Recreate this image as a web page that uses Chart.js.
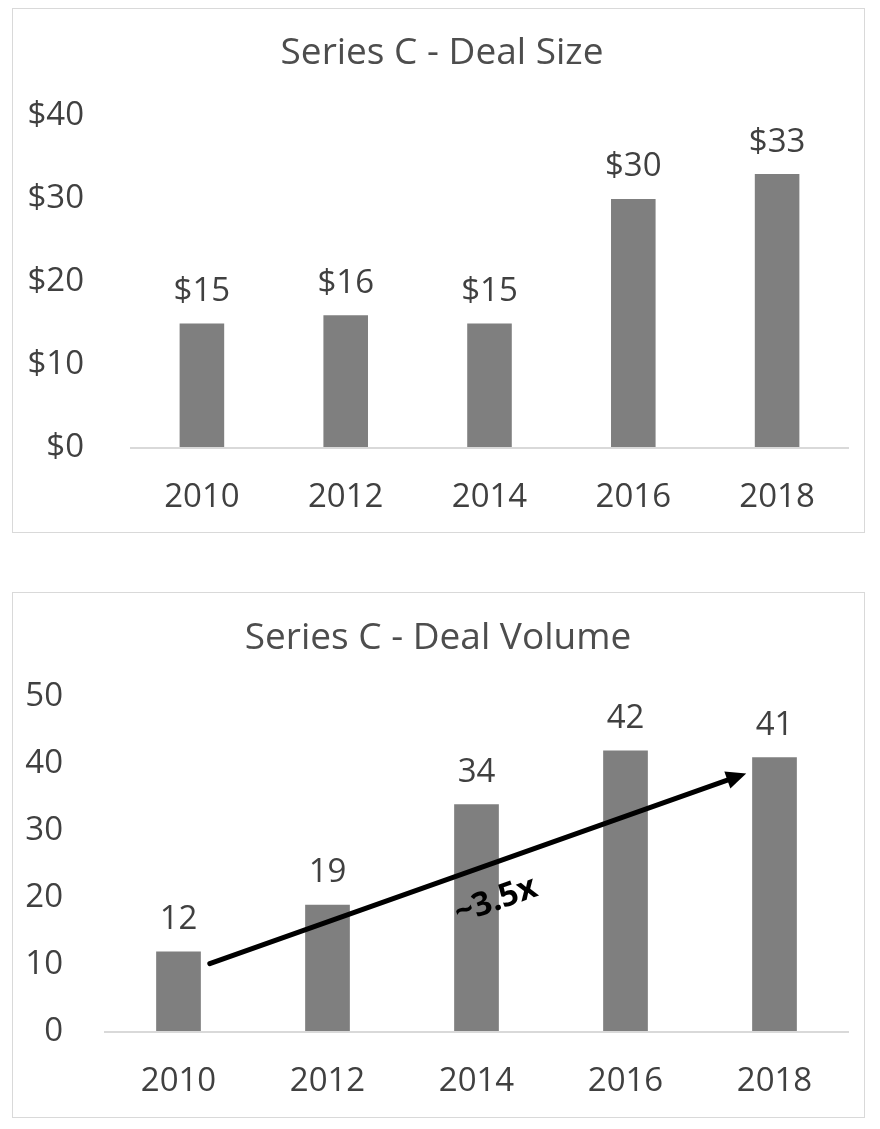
<!DOCTYPE html>
<html>
<head>
<meta charset="utf-8">
<script src="https://cdn.jsdelivr.net/npm/chart.js@4.4.1/dist/chart.umd.min.js"></script>
<style>
    body { margin: 0; background: #fff; }
    .box { position: absolute; left: 12px; width: 853px; border: 1px solid #d9d9d9; box-sizing: border-box; }
    #box1 { top: 8px; height: 525px; }
    #box2 { top: 592px; height: 526px; }
    canvas { display: block; }
</style>
</head>
<body>
<div class="box" id="box1"><canvas id="sizeChart"></canvas></div>
<div class="box" id="box2"><canvas id="volumeChart"></canvas></div>
<script>
// chart data
const years = ["2010", "2012", "2014", "2016", "2018"];
const dealSize = [15, 16, 15, 30, 33];
const dealVolume = [12, 19, 34, 42, 41];
const sizeTicks = [0, 10, 20, 30, 40];
const volumeTicks = [0, 10, 20, 30, 40, 50];

// growth arrow annotation: [category index, value]
const arrowFrom = [0.21, 10.2];
const arrowTo = [3.81, 38.6];
const arrowText = "~3.5x";
const arrowTextAt = [2.13, 19.6];

const FONT = "'Open Sans', sans-serif";
const BAR_GRAY = "#7f7f7f";
const TEXT = "#404040";

// title + value labels above the bars
const labelPlugin = {
    id: "barLabels",
    afterDatasetsDraw(chart, args, opts) {
        const ctx = chart.ctx;
        ctx.save();
        ctx.fillStyle = "#4d4d4d";
        ctx.font = "37px " + FONT;
        ctx.textAlign = "center";
        ctx.textBaseline = "middle";
        ctx.fillText(opts.title, opts.titleX, opts.titleY);

        ctx.fillStyle = TEXT;
        ctx.font = "33px " + FONT;
        const meta = chart.getDatasetMeta(0);
        meta.data.forEach((bar, i) => {
            const v = chart.data.datasets[0].data[i];
            ctx.fillText(opts.prefix + v, bar.x, bar.y - 32);
        });
        ctx.restore();
    }
};

// arrow drawn in data space
const arrowPlugin = {
    id: "growthArrow",
    afterDatasetsDraw(chart) {
        if (chart.canvas.id !== "volumeChart") return;
        const xs = chart.scales.x, ys = chart.scales.y;
        const x1 = xs.getPixelForValue(arrowFrom[0]), y1 = ys.getPixelForValue(arrowFrom[1]);
        const x2 = xs.getPixelForValue(arrowTo[0]), y2 = ys.getPixelForValue(arrowTo[1]);
        const ang = Math.atan2(y2 - y1, x2 - x1);
        const ctx = chart.ctx;
        ctx.save();
        ctx.strokeStyle = "#000";
        ctx.fillStyle = "#000";
        ctx.lineWidth = 5;
        ctx.lineCap = "round";
        ctx.beginPath();
        ctx.moveTo(x1, y1);
        ctx.lineTo(x2 - 14 * Math.cos(ang), y2 - 14 * Math.sin(ang));
        ctx.stroke();
        ctx.translate(x2, y2);
        ctx.rotate(ang);
        ctx.beginPath();
        ctx.moveTo(0, 0);
        ctx.lineTo(-20, -9);
        ctx.lineTo(-20, 9);
        ctx.closePath();
        ctx.fill();
        ctx.restore();

        const tx = xs.getPixelForValue(arrowTextAt[0]), ty = ys.getPixelForValue(arrowTextAt[1]);
        ctx.save();
        ctx.translate(tx, ty);
        ctx.rotate(ang);
        ctx.font = "bold 33px " + FONT;
        ctx.textAlign = "center";
        ctx.textBaseline = "middle";
        ctx.fillStyle = "#000";
        ctx.fillText(arrowText, 0, 0);
        ctx.restore();
    }
};

function makeChart(id, values, ticks, prefix, title, dims) {
    const canvas = document.getElementById(id);
    canvas.width = dims.w;
    canvas.height = dims.h;
    return new Chart(canvas.getContext("2d"), {
        type: "bar",
        data: {
            labels: years,
            datasets: [{
                data: values,
                backgroundColor: BAR_GRAY,
                barPercentage: dims.bar,
                categoryPercentage: 1
            }]
        },
        options: {
            responsive: false,
            animation: false,
            layout: { padding: { top: dims.top, right: dims.right, left: 0, bottom: 0 } },
            plugins: {
                legend: { display: false },
                tooltip: { enabled: false },
                barLabels: { title: title, titleX: dims.titleX, titleY: dims.titleY, prefix: prefix }
            },
            scales: {
                x: {
                    grid: { display: false, drawTicks: false },
                    border: { display: false },
                    ticks: { color: TEXT, font: { family: FONT, size: 33 }, padding: dims.xPad },
                    afterFit(scale) { scale.height = dims.xH; }
                },
                y: {
                    min: ticks[0],
                    max: ticks[ticks.length - 1],
                    afterBuildTicks(scale) { scale.ticks = ticks.map(v => ({ value: v })); },
                    grid: {
                        drawTicks: false,
                        color: c => (c.tick && c.tick.value === 0 ? "#d9d9d9" : "rgba(0,0,0,0)"),
                        lineWidth: 2
                    },
                    border: { display: false },
                    ticks: {
                        color: TEXT,
                        font: { family: FONT, size: 33 },
                        padding: dims.yPad,
                        callback: v => prefix + v
                    },
                    afterFit(scale) { scale.width = dims.yW; }
                }
            }
        },
        plugins: [labelPlugin, arrowPlugin]
    });
}

makeChart("sizeChart", dealSize, sizeTicks, "$", "Series C - Deal Size", {
    w: 851, h: 523, top: 107, right: 15, yW: 117, yPad: 46, xH: 84, xPad: 30,
    titleX: 429, titleY: 44, bar: 0.31
});
makeChart("volumeChart", dealVolume, volumeTicks, "", "Series C - Deal Volume", {
    w: 851, h: 524, top: 104, right: 15, yW: 91, yPad: 41, xH: 85, xPad: 30,
    titleX: 425, titleY: 45, bar: 0.30
});
</script>
</body>
</html>
